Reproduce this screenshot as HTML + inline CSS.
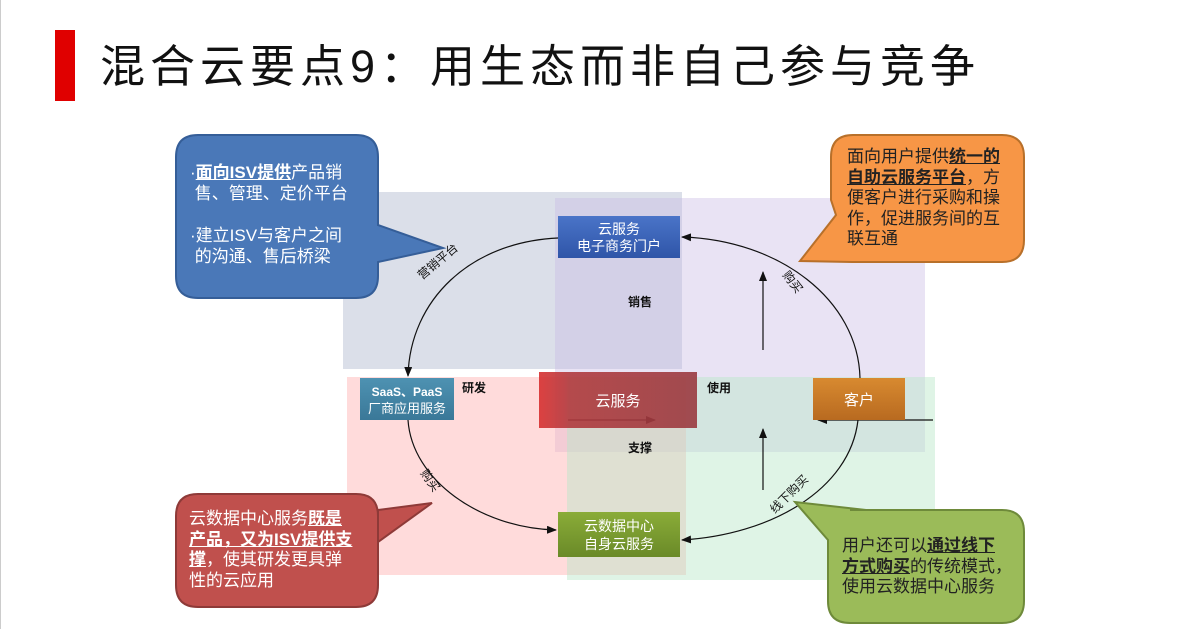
<!DOCTYPE html>
<html><head><meta charset="utf-8"><style>
body{margin:0;width:1199px;height:629px;background:#fff;overflow:hidden;position:relative;font-family:"Liberation Sans","Noto Sans CJK SC",sans-serif}
.t{position:absolute;font-family:"Liberation Sans","Noto Sans CJK SC",sans-serif}
.co{position:absolute;font-size:17px;line-height:20.5px}
b.u{text-decoration:underline}
</style></head><body>
<div style="position:absolute;left:0;top:0;width:1px;height:629px;background:#ccc"></div>
<div style="position:absolute;left:55px;top:30px;width:20px;height:71px;background:#e00000"></div>
<div class="t" style="left:100px;top:38px;font-size:45px;letter-spacing:5px;line-height:58px;color:#111">混合云要点9：用生态而非自己参与竞争</div>
<svg width="1199" height="629" style="position:absolute;left:0;top:0">
<defs>
<marker id="a" markerWidth="10" markerHeight="8" refX="9" refY="4" orient="auto" markerUnits="userSpaceOnUse"><path d="M0,0L10,4L0,8z" fill="#111"/></marker>
<linearGradient id="gb" x1="0" y1="0" x2="0" y2="1"><stop offset="0" stop-color="#4a74c8"/><stop offset="1" stop-color="#2f55a8"/></linearGradient>
<linearGradient id="gr" x1="0" y1="0" x2="1" y2="0"><stop offset="0" stop-color="#d83030"/><stop offset="0.2" stop-color="#b03a3e"/><stop offset="1" stop-color="#9a3a40"/></linearGradient>
<linearGradient id="go" x1="0" y1="0" x2="0" y2="1"><stop offset="0" stop-color="#d88a30"/><stop offset="1" stop-color="#b86a20"/></linearGradient>
<linearGradient id="gg" x1="0" y1="0" x2="0" y2="1"><stop offset="0" stop-color="#8aac38"/><stop offset="1" stop-color="#6a8a28"/></linearGradient>
<linearGradient id="gt" x1="0" y1="0" x2="0" y2="1"><stop offset="0" stop-color="#4e92b2"/><stop offset="1" stop-color="#3a7898"/></linearGradient>
</defs>
<rect x="343" y="192" width="339" height="177" fill="#b8bfd4" fill-opacity="0.5"/>
<rect x="555" y="198" width="370" height="254" fill="#c8b8e4" fill-opacity="0.4"/>
<rect x="347" y="377" width="339" height="198" fill="#ffb0b0" fill-opacity="0.45"/>
<rect x="567" y="377" width="368" height="203" fill="#b8e6c8" fill-opacity="0.45"/>
<g fill="none" stroke="#111" stroke-width="1.2">
<path d="M558,238 C470,242 410,300 408,376" marker-end="url(#a)"/>
<path d="M408,420 C412,480 480,528 556,530" marker-end="url(#a)"/>
<path d="M858,420 C850,490 770,535 682,540" marker-end="url(#a)"/>
<path d="M860,378 C858,300 780,240 682,237" marker-end="url(#a)"/>
<path d="M763,350 L763,272" marker-end="url(#a)"/>
<path d="M763,490 L763,429" marker-end="url(#a)"/>
<path d="M933,420 L818,420" marker-end="url(#a)"/>
<path d="M568,420 L655,420" marker-end="url(#a)"/>
</g>
<rect x="558" y="216" width="122" height="42" fill="url(#gb)"/>
<rect x="360" y="378" width="94" height="42" fill="url(#gt)"/>
<rect x="539" y="372" width="158" height="56" fill="url(#gr)" fill-opacity="0.9"/>
<rect x="813" y="378" width="92" height="42" fill="url(#go)"/>
<rect x="558" y="512" width="122" height="45" fill="url(#gg)"/>
<g font-size="14" fill="#fff" text-anchor="middle" font-family="Liberation Sans,Noto Sans CJK SC,sans-serif">
<text x="619" y="234">云服务</text><text x="619" y="251">电子商务门户</text>
<text x="407" y="396" font-weight="bold" font-size="12">SaaS、PaaS</text><text x="407" y="413" font-size="13">厂商应用服务</text>
<text x="618" y="406" font-size="15">云服务</text>
<text x="859" y="405" font-size="15">客户</text>
<text x="619" y="531">云数据中心</text><text x="619" y="549">自身云服务</text>
</g>
<g font-size="12" fill="#111" font-family="Liberation Sans,Noto Sans CJK SC,sans-serif">
<text x="628" y="306" font-weight="bold">销售</text>
<text x="462" y="392" font-weight="bold">研发</text>
<text x="707" y="392" font-weight="bold">使用</text>
<text x="628" y="452" font-weight="bold">支撑</text>
<text transform="translate(422,280) rotate(-40)">营销平台</text>
<text transform="translate(782,275) rotate(52)">购买</text>
<text transform="translate(420,473) rotate(55)">购买</text>
<text transform="translate(775,514) rotate(-45)">线下购买</text>
</g>
<g stroke-width="2">
<path d="M198,135 H356 Q378,135 378,157 V225 L443,248 L378,262 V276 Q378,298 356,298 H198 Q176,298 176,276 V157 Q176,135 198,135Z" fill="#4a78b8" stroke="#355e98"/>
<path d="M853,135 H1002 Q1024,135 1024,157 V240 Q1024,262 1002,262 H852 L800,261 L836,215 L831,200 V157 Q831,135 853,135Z" fill="#f79646" stroke="#b8702a"/>
<path d="M198,494 H356 Q378,494 378,516 V585 Q378,607 356,607 H198 Q176,607 176,585 V516 Q176,494 198,494Z M378,510 L432,503 L378,542Z" fill="#c0504d" stroke="#8e3a38"/>
<path d="M850,510 H1002 Q1024,510 1024,532 V601 Q1024,623 1002,623 H850 Q828,623 828,601 V540 L795,502 L866,510Z" fill="#9bbb59" stroke="#6e8a3a"/>
</g>
</svg>
<div class="co" style="left:190px;top:163px;color:#fff;width:185px">·<b class="u">面向ISV提供</b>产品销<br>&nbsp;售、管理、定价平台<br><div style="height:22px"></div>·建立ISV与客户之间<br>&nbsp;的沟通、售后桥梁</div>
<div class="co" style="left:847px;top:147px;color:#222;width:175px">面向用户提供<b class="u">统一的<br>自助云服务平台</b>，方<br>便客户进行采购和操<br>作，促进服务间的互<br>联互通</div>
<div class="co" style="left:189px;top:509px;color:#fff;width:185px">云数据中心服务<b class="u">既是<br>产品，又为ISV提供支<br>撑</b>，使其研发更具弹<br>性的云应用</div>
<div class="co" style="left:842px;top:536px;color:#222;width:182px">用户还可以<b class="u">通过线下<br>方式购买</b>的传统模式，<br>使用云数据中心服务</div>
</body></html>
